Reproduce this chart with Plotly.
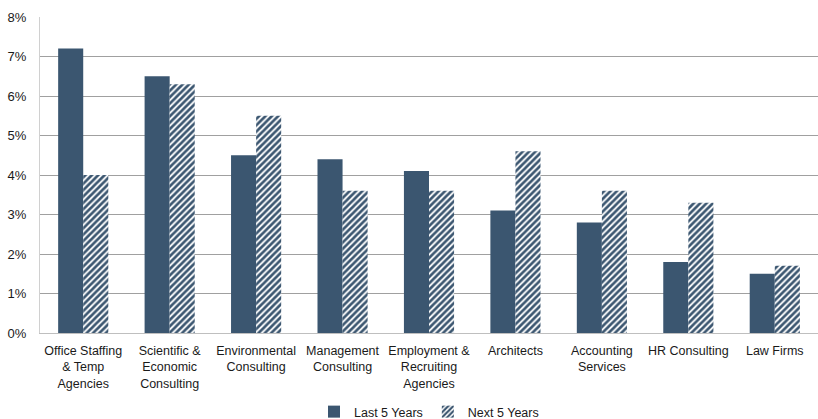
import plotly.graph_objects as go

categories = [
    "Office Staffing<br>& Temp<br>Agencies",
    "Scientific &<br>Economic<br>Consulting",
    "Environmental<br>Consulting",
    "Management<br>Consulting",
    "Employment &<br>Recruiting<br>Agencies",
    "Architects",
    "Accounting<br>Services",
    "HR Consulting",
    "Law Firms",
]
last_5_years = [7.2, 6.5, 4.5, 4.4, 4.1, 3.1, 2.8, 1.8, 1.5]
next_5_years = [4.0, 6.3, 5.5, 3.6, 3.6, 4.6, 3.6, 3.3, 1.7]
y_ticks = [0, 1, 2, 3, 4, 5, 6, 7, 8]

navy = "#3b5670"

fig = go.Figure()
fig.add_trace(go.Bar(
    name="Last 5 Years", x=categories, y=last_5_years,
    marker=dict(color=navy, line=dict(width=0)),
))
fig.add_trace(go.Bar(
    name="Next 5 Years", x=categories, y=next_5_years,
    marker=dict(
        color="white",
        line=dict(width=0),
        pattern=dict(shape="/", fgcolor=navy, bgcolor="white", size=4.5,
                     solidity=0.6, fgopacity=1),
    ),
))

fig.update_layout(
    width=818, height=419,
    margin=dict(l=40, r=0, t=17, b=86, autoexpand=False),
    paper_bgcolor="white", plot_bgcolor="white",
    barmode="group", bargap=0.42, bargroupgap=0,
    font=dict(family="Liberation Sans, Arial, sans-serif", size=12.5, color="#1a1a1a"),
    showlegend=True,
    legend=dict(
        orientation="h", x=0.5, xanchor="center",
        yref="container", y=(419 - 412) / 419, yanchor="middle",
        font=dict(size=12.5), itemwidth=30, tracegroupgap=0,
    ),
    xaxis=dict(
        showline=True, linecolor="#bfbfbf", linewidth=1,
        ticks="", tickfont=dict(size=12.5), showgrid=False,
        ticklabelstandoff=6,
    ),
    yaxis=dict(
        range=[0, 8], tickvals=y_ticks,
        ticktext=[f"{v}%" for v in y_ticks],
        showgrid=True, gridcolor="#a0a0a0", gridwidth=1,
        showline=True, linecolor="#d0d0d0", linewidth=1,
        ticks="", tickfont=dict(size=13), zeroline=False,
        ticklabelstandoff=10,
    ),
)

fig.write_html("out.html")
